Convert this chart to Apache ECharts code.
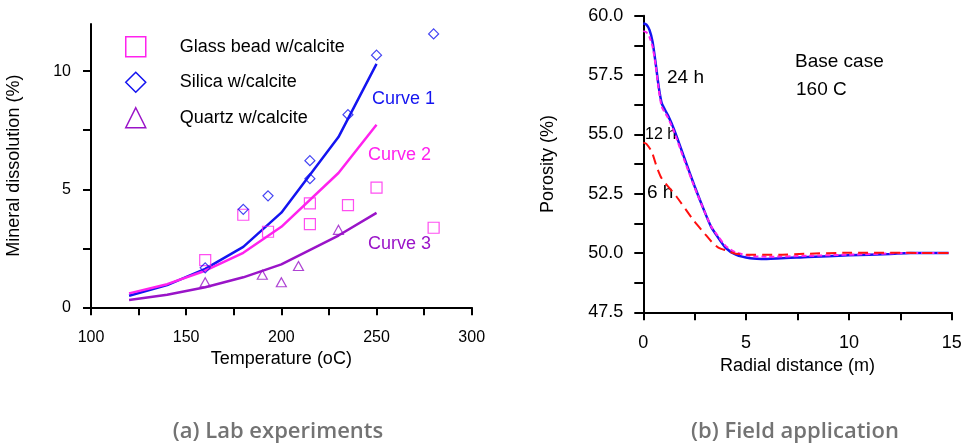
<!DOCTYPE html>
<html>
<head>
<meta charset="utf-8">
<script src="https://cdn.jsdelivr.net/npm/echarts@6/dist/echarts.min.js"></script>
<style>
  html, body { margin: 0; padding: 0; background: #fff; }
  #chart { width: 967px; height: 445px; }
</style>
</head>
<body>
<div id="chart"></div>
<script>
// ---- (a) Lab experiments: measured dissolution vs temperature ----
const glassBead = [[160, 2.0], [180, 3.92], [193, 3.2], [215, 4.4], [215, 3.52], [235, 4.33], [250, 5.07], [280, 3.37]];
const silica    = [[160, 1.67], [180, 4.15], [193, 4.72], [215, 6.21], [215, 5.45], [235, 8.16], [250, 10.68], [280, 11.58]];
const quartz    = [[160, 1.06], [190, 1.38], [200, 1.06], [209, 1.75], [230, 3.28]];

// model curves
const curveTemps = [120, 140, 160, 180, 200, 230, 250];
const curve1 = [0.49, 0.94, 1.63, 2.56, 4.01, 7.21, 10.31];
const curve2 = [0.59, 0.98, 1.55, 2.31, 3.41, 5.69, 7.73];
const curve3 = [0.31, 0.53, 0.85, 1.27, 1.82, 3.04, 4.0];

const tempTicks = [100, 125, 150, 175, 200, 225, 250, 275, 300];
const tempLabels = [100, 150, 200, 250, 300];
const dissTicks = [0, 2.5, 5, 7.5, 10];
const dissLabels = [0, 5, 10];

// ---- (b) Field application: porosity profiles ----
const por24x = [0, 0.15, 0.3, 0.45, 0.6, 0.75, 0.9, 1.2, 1.5, 2.0, 2.5, 3.0, 3.3, 3.6, 4.0, 4.5, 5.2, 6.0, 8.0, 10.0, 12.0, 13.0, 14.85];
const por24y = [59.68, 59.62, 59.4, 58.9, 58.0, 57.0, 56.3, 55.8, 55.2, 54.0, 52.8, 51.7, 51.1, 50.7, 50.22, 49.93, 49.78, 49.75, 49.83, 49.9, 49.96, 50.0, 50.0];
const por12x = [0, 0.15, 0.3, 0.45, 0.6, 0.75, 0.9, 1.2, 1.5, 2.0, 2.5, 3.0, 3.3, 3.6, 4.0, 4.5, 5.2, 6.0, 8.0, 10.0, 13.0, 14.85];
const por12y = [59.35, 59.3, 59.1, 58.7, 57.9, 56.9, 56.15, 55.7, 55.1, 53.9, 52.75, 51.7, 51.12, 50.75, 50.3, 50.02, 49.88, 49.84, 49.88, 49.93, 50.0, 50.0];
const por6x  = [0, 0.15, 0.41, 0.65, 0.89, 1.62, 2.43, 3.0, 3.4, 3.7, 4.05, 4.5, 5.0, 6.6, 8.0, 9.9, 14.85];
const por6y  = [54.65, 54.6, 54.27, 53.64, 53.15, 52.37, 51.39, 50.8, 50.4, 50.2, 50.1, 49.97, 49.93, 49.93, 49.97, 50.01, 50.0];

const distTicks = [0, 2.5, 5, 7.5, 10, 12.5, 15];
const distLabels = [0, 5, 10, 15];
const porTicks = [47.5, 48.75, 50, 51.25, 52.5, 53.75, 55, 56.25, 57.5, 58.75, 60];
const porLabels = [47.5, 50, 52.5, 55, 57.5, 60];

const BLUE = '#1414f0';
const MAGENTA = '#ff22ee';
const PURPLE = '#9a14c8';
const RED = '#ff1010';
const FONT = '"Liberation Sans", Arial, sans-serif';

const zip = (xs, ys) => xs.map((x, i) => [x, ys[i]]);

function axisBase() {
  return {
    axisLine: { show: true, onZero: false, lineStyle: { color: '#000', width: 2 } },
    splitLine: { show: false },
    nameTextStyle: { color: '#000', fontFamily: FONT, fontSize: 18 }
  };
}

const chart = echarts.init(document.getElementById('chart'), null, { renderer: 'canvas' });

const txt = (text, x, y, size, color) => ({
  type: 'text', x: x, y: y,
  style: { text: text, fill: color, font: size + 'px ' + FONT, textAlign: 'left', textVerticalAlign: 'middle' }
});

const caption = (text, x) => ({
  type: 'text', x: x, y: 432,
  style: { text: text, fill: '#737373', font: '600 22px "Open Sans", sans-serif', textAlign: 'center', textVerticalAlign: 'middle' }
});

const legendItem = (name, color) => ({
  name: name,
  itemStyle: { color: '#ffffff', borderColor: color, borderWidth: 1.5, opacity: 1 }
});

chart.setOption({
  animation: false,
  backgroundColor: '#fff',
  grid: [
    { left: 91, top: 24, width: 380.7, height: 283.3 },
    { left: 643.3, top: 15.7, width: 308.4, height: 296.6 }
  ],
  xAxis: [
    Object.assign(axisBase(), {
      gridIndex: 0, type: 'value', min: 100, max: 300, interval: 25,
      name: 'Temperature (oC)', nameLocation: 'middle', nameGap: 42,
      axisTick: { show: true, length: 8, customValues: tempTicks, lineStyle: { color: '#000', width: 2 } },
      axisLabel: { color: '#000', fontFamily: FONT, fontSize: 16, margin: 22, customValues: tempLabels }
    }),
    Object.assign(axisBase(), {
      gridIndex: 1, type: 'value', min: 0, max: 15, interval: 2.5,
      name: 'Radial distance (m)', nameLocation: 'middle', nameGap: 35,
      axisTick: { show: true, length: 8, customValues: distTicks, lineStyle: { color: '#000', width: 2 } },
      axisLabel: { color: '#000', fontFamily: FONT, fontSize: 18, margin: 22, customValues: distLabels }
    })
  ],
  yAxis: [
    Object.assign(axisBase(), {
      gridIndex: 0, type: 'value', min: 0, max: 12, interval: 2.5,
      name: 'Mineral dissolution (%)', nameLocation: 'middle', nameGap: 68,
      axisTick: { show: true, length: 8, customValues: dissTicks, lineStyle: { color: '#000', width: 2 } },
      axisLabel: { color: '#000', fontFamily: FONT, fontSize: 16, margin: 20, customValues: dissLabels }
    }),
    Object.assign(axisBase(), {
      gridIndex: 1, type: 'value', min: 47.5, max: 60, interval: 1.25,
      name: 'Porosity (%)', nameLocation: 'middle', nameGap: 86,
      axisTick: { show: true, length: 9, customValues: porTicks, lineStyle: { color: '#000', width: 2 } },
      axisLabel: {
        color: '#000', fontFamily: FONT, fontSize: 18, margin: 20, customValues: porLabels,
        formatter: v => v.toFixed(1)
      }
    })
  ],
  legend: {
    left: 120, top: 31, orient: 'vertical',
    itemWidth: 20, itemHeight: 20, itemGap: 14,
    data: [
      legendItem('Glass bead w/calcite', MAGENTA),
      legendItem('Silica w/calcite', BLUE),
      legendItem('Quartz w/calcite', PURPLE)
    ],
    textStyle: { color: '#000', fontFamily: FONT, fontSize: 18, padding: [0, 0, 0, 29] }
  },
  series: [
    { name: 'Curve 1', type: 'line', xAxisIndex: 0, yAxisIndex: 0, data: zip(curveTemps, curve1),
      showSymbol: false, lineStyle: { color: BLUE, width: 2.5 }, itemStyle: { color: BLUE }, z: 2 },
    { name: 'Curve 2', type: 'line', xAxisIndex: 0, yAxisIndex: 0, data: zip(curveTemps, curve2),
      showSymbol: false, lineStyle: { color: MAGENTA, width: 2.5 }, itemStyle: { color: MAGENTA }, z: 2 },
    { name: 'Curve 3', type: 'line', xAxisIndex: 0, yAxisIndex: 0, data: zip(curveTemps, curve3),
      showSymbol: false, lineStyle: { color: PURPLE, width: 2.5 }, itemStyle: { color: PURPLE }, z: 2 },
    { name: 'Glass bead w/calcite', type: 'scatter', xAxisIndex: 0, yAxisIndex: 0, data: glassBead,
      symbol: 'rect', symbolSize: 11,
      itemStyle: { color: 'rgba(255,255,255,0)', borderColor: MAGENTA, borderWidth: 1.2 }, z: 3 },
    { name: 'Silica w/calcite', type: 'scatter', xAxisIndex: 0, yAxisIndex: 0, data: silica,
      symbol: 'diamond', symbolSize: 10,
      itemStyle: { color: 'rgba(255,255,255,0)', borderColor: BLUE, borderWidth: 1.2 }, z: 3 },
    { name: 'Quartz w/calcite', type: 'scatter', xAxisIndex: 0, yAxisIndex: 0, data: quartz,
      symbol: 'triangle', symbolSize: [10, 9],
      itemStyle: { color: 'rgba(255,255,255,0)', borderColor: PURPLE, borderWidth: 1.2 }, z: 3 },

    { name: '24 h', type: 'line', xAxisIndex: 1, yAxisIndex: 1, data: zip(por24x, por24y),
      showSymbol: false, smooth: 0.2, lineStyle: { color: BLUE, width: 2.5 }, z: 2 },
    { name: '12 h', type: 'line', xAxisIndex: 1, yAxisIndex: 1, data: zip(por12x, por12y),
      showSymbol: false, smooth: 0.2, lineStyle: { color: MAGENTA, width: 2, type: [5, 3] }, z: 3 },
    { name: '6 h', type: 'line', xAxisIndex: 1, yAxisIndex: 1, data: zip(por6x, por6y),
      showSymbol: false, smooth: 0.2, lineStyle: { color: RED, width: 2, type: [10, 6] }, z: 4 }
  ],
  graphic: [
    txt('Curve 1', 372, 99, 18, BLUE),
    txt('Curve 2', 368, 155, 18, MAGENTA),
    txt('Curve 3', 368, 244, 18, PURPLE),
    txt('24 h', 667, 78, 19, '#000'),
    txt('12 h', 645, 135, 16, '#000'),
    txt('6 h', 647, 193, 19, '#000'),
    txt('Base case', 795, 62, 19, '#000'),
    txt('160 C', 796, 90, 19, '#000'),
    caption('(a) Lab experiments', 278),
    caption('(b) Field application', 795)
  ]
});
</script>
</body>
</html>
